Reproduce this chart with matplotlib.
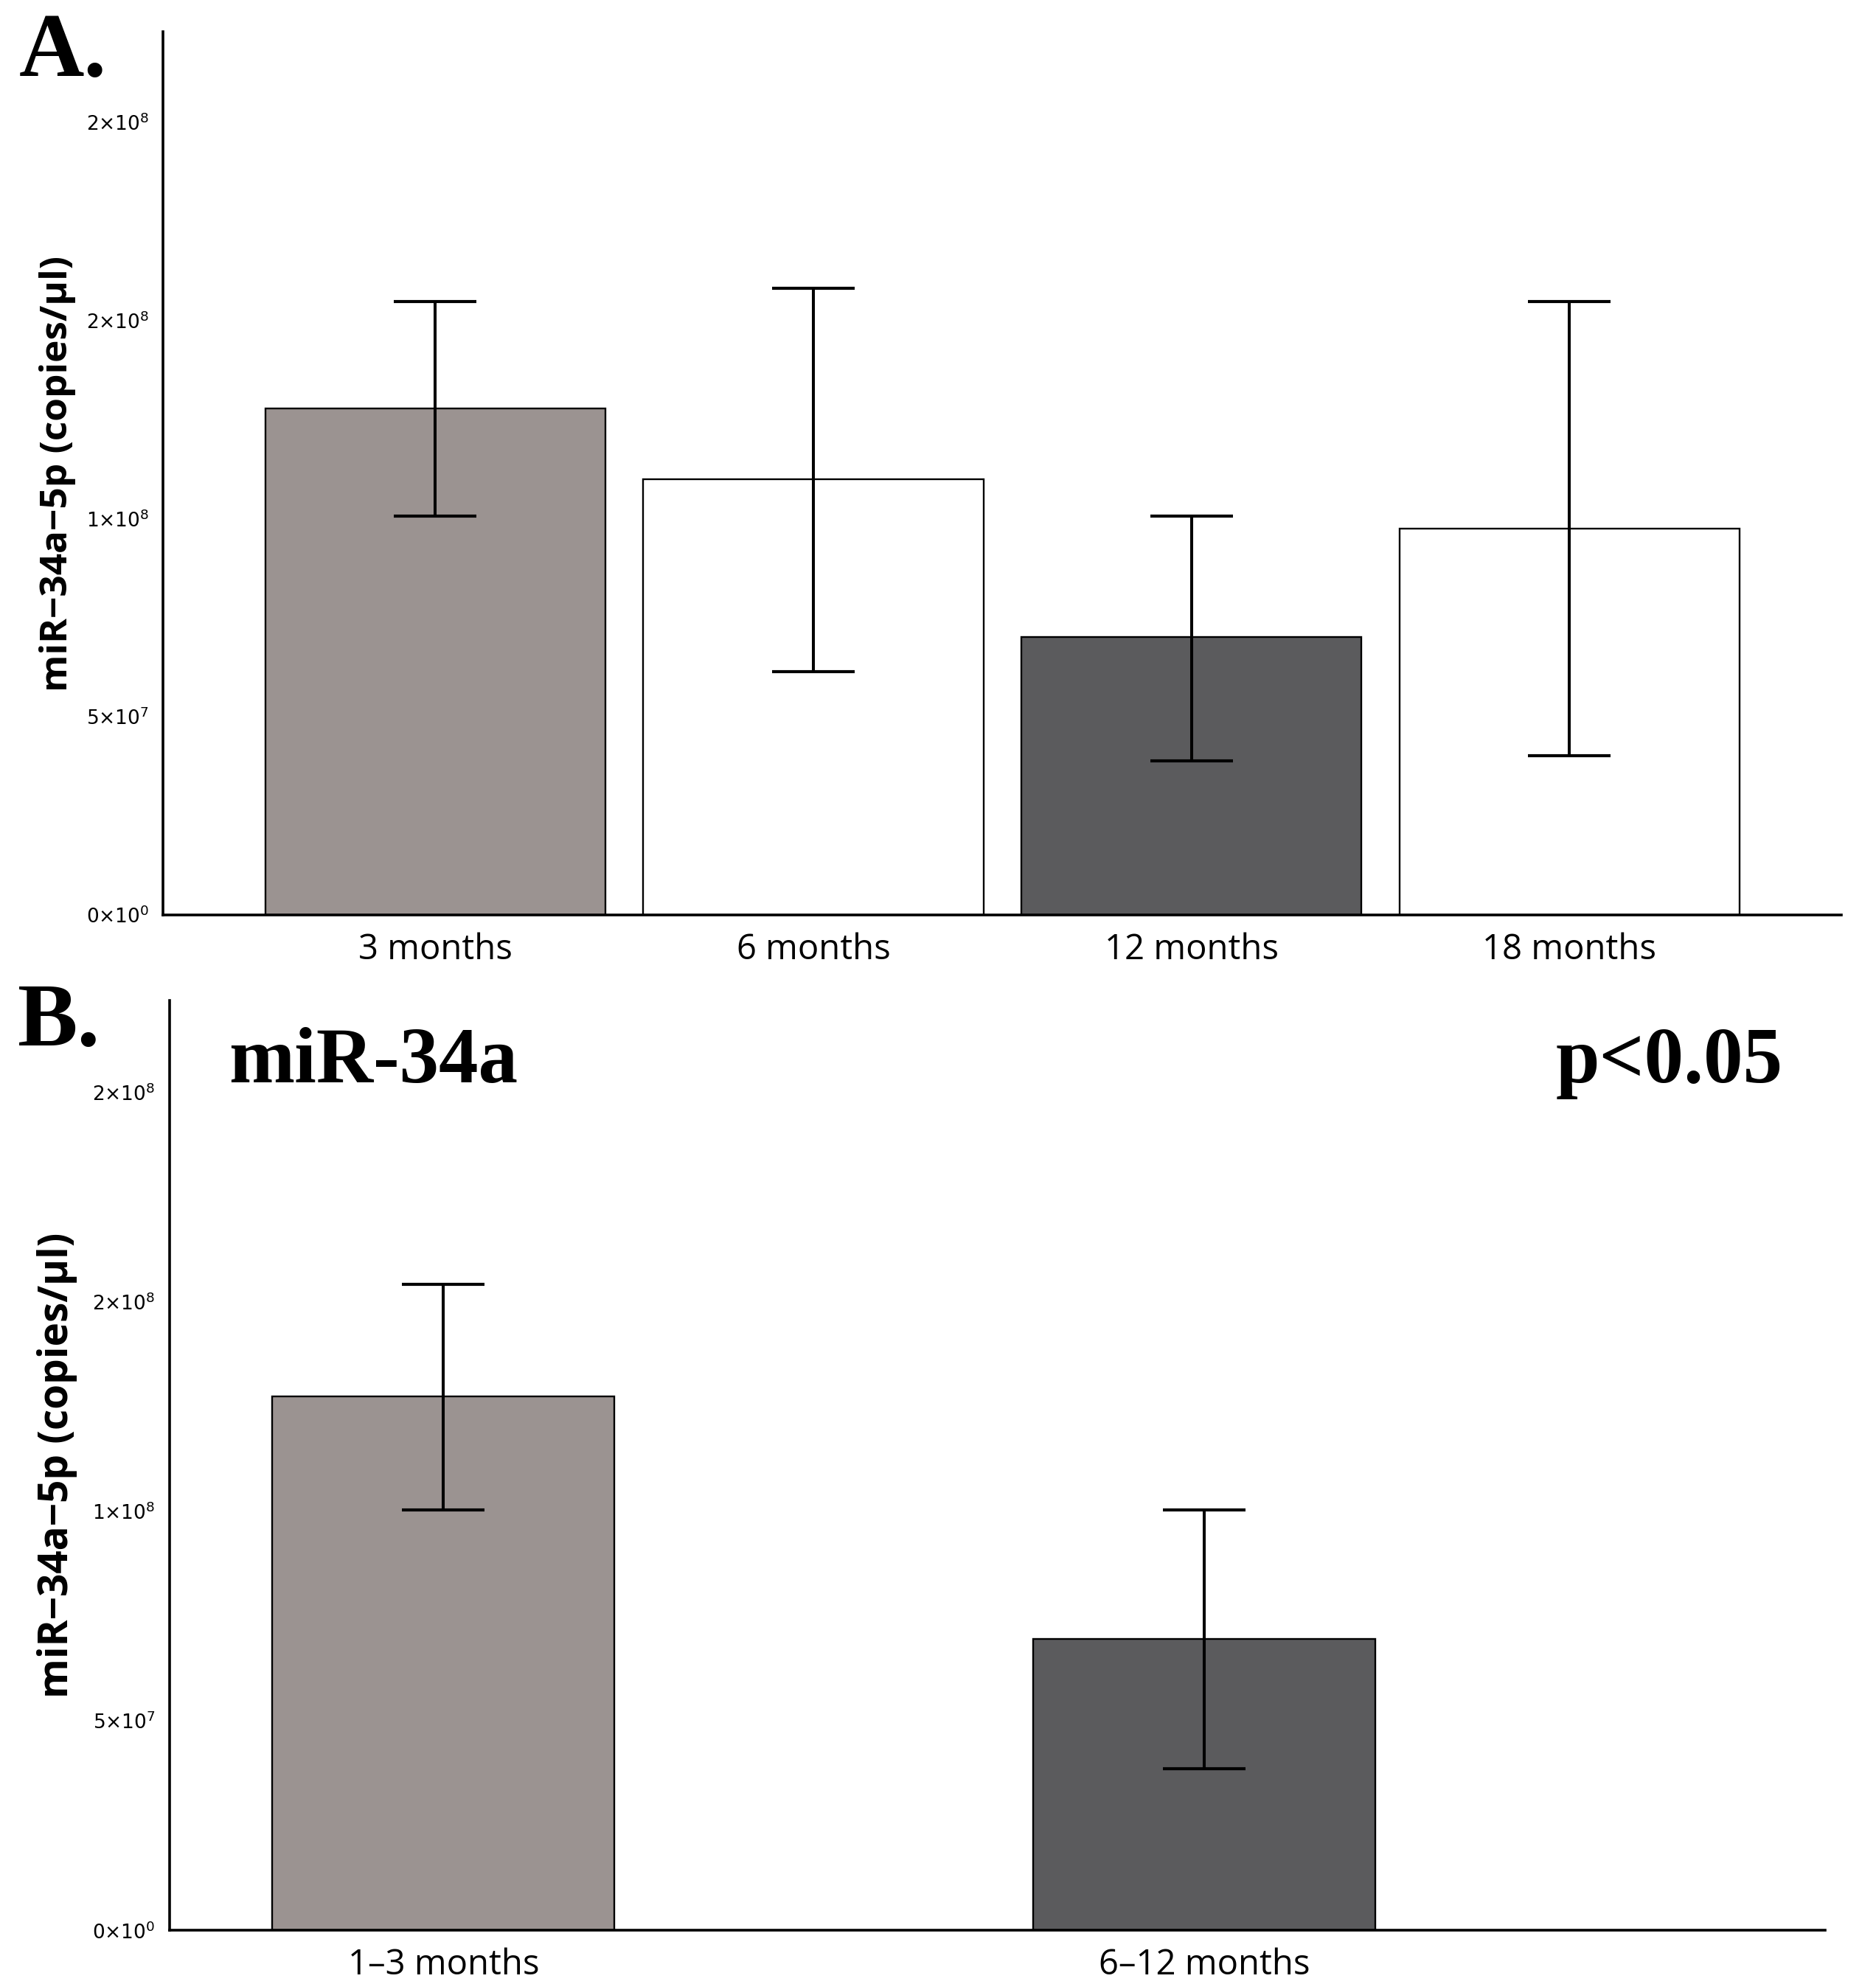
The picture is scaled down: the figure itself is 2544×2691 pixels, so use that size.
import matplotlib
matplotlib.use("Agg")
import matplotlib.pyplot as plt

# ---- data ----
cats_a = ["3 months", "6 months", "12 months", "18 months"]
means_a = [1.277e8, 1.10e8, 7.01e7, 9.74e7]
upper_a = [1.547e8, 1.582e8, 1.006e8, 1.547e8]
lower_a = [1.006e8, 6.14e7, 3.89e7, 4.02e7]
colors_a = ["#9b9391", "#ffffff", "#5b5b5d", "#ffffff"]

cats_b = ["1\u20133 months", "6\u201312 months"]
means_b = [1.274e8, 6.96e7]
upper_b = [1.541e8, 1.003e8]
lower_b = [1.003e8, 3.86e7]
colors_b = ["#9b9391", "#5b5b5d"]

yticks = [0, 5e7, 1e8, 1.5e8, 2e8]
ytick_labels = [r"$0{\times}10^{0}$", r"$5{\times}10^{7}$", r"$1{\times}10^{8}$",
                r"$2{\times}10^{8}$", r"$2{\times}10^{8}$"]
ylabel = "miR\u221234a\u22125p (copies/\u00b5l)"

fig = plt.figure(figsize=(25.44, 26.91), dpi=100)
plt.rcParams["mathtext.fontset"] = "dejavusans"


def draw(ax, cats, means, upper, lower, colors, width, xlim, ylim, tick_fs):
    x = list(range(len(cats)))
    yerr = [[m - l for m, l in zip(means, lower)], [u - m for m, u in zip(means, upper)]]
    ax.bar(x, means, width=width, color=colors, edgecolor="black", linewidth=1.7, zorder=2)
    ax.errorbar(x, means, yerr=yerr, fmt="none", ecolor="black", elinewidth=2.9,
                capsize=40, capthick=3.0, zorder=3)
    ax.set_xlim(*xlim)
    ax.set_ylim(*ylim)
    ax.set_xticks(x)
    ax.set_xticklabels(cats, fontsize=34, family="Open Sans")
    ax.set_yticks(yticks)
    ax.set_yticklabels(ytick_labels, fontsize=tick_fs)
    ax.tick_params(axis="x", length=0, pad=17)
    ax.tick_params(axis="y", length=0, pad=14)
    for s in ["top", "right"]:
        ax.spines[s].set_visible(False)
    for s in ["left", "bottom"]:
        ax.spines[s].set_linewidth(2.6)
        ax.spines[s].set_color("black")


axA = fig.add_axes([0.0870, 0.5389, 0.9817 - 0.0870, 0.9839 - 0.5389])
draw(axA, cats_a, means_a, upper_a, lower_a, colors_a, 0.9, (-0.72, 3.72), (0, 2.228e8), 19)

axB = fig.add_axes([0.0904, 0.0270, 0.9728 - 0.0904, 0.4958 - 0.0270])
draw(axB, cats_b, means_b, upper_b, lower_b, colors_b, 0.45, (-0.36, 1.816), (0, 2.219e8), 19)

fig.text(0.0305, 0.7614, ylabel, rotation=90, ha="center", va="center",
         fontsize=37, fontweight="bold", family="Open Sans")
fig.text(0.0305, 0.2614, ylabel, rotation=90, ha="center", va="center",
         fontsize=39.5, fontweight="bold", family="Open Sans")

serif = "Liberation Serif"
fig.text(0.0102, 0.9617, "A.", fontsize=88, fontweight="bold", family=serif, ha="left", va="baseline")
fig.text(0.0095, 0.4730, "B.", fontsize=88, fontweight="bold", family=serif, ha="left", va="baseline")
fig.text(0.122, 0.4545, "miR-34a", fontsize=77, fontweight="bold", family=serif, ha="left", va="baseline")
fig.text(0.9505, 0.4545, "p<0.05", fontsize=77, fontweight="bold", family=serif, ha="right", va="baseline")

fig.savefig("out.png", dpi=100, facecolor="white")
